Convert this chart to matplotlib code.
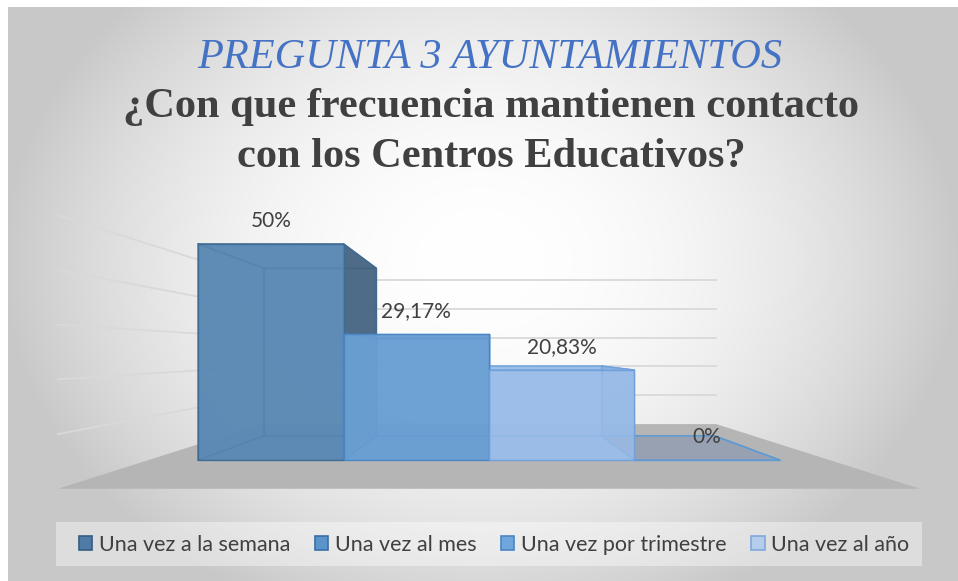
import numpy as np
import matplotlib.pyplot as plt
from matplotlib.colors import to_rgba
from matplotlib.patches import Patch, Rectangle
from mpl_toolkits.mplot3d import proj3d
from mpl_toolkits.mplot3d.art3d import Poly3DCollection

categorias = ["Una vez a la semana", "Una vez al mes",
              "Una vez por trimestre", "Una vez al año"]
valores = [50.0, 29.17, 20.83, 0.0]
etiquetas = ["50%", "29,17%", "20,83%", "0%"]

# colores de las caras (frontal, lateral derecha, borde) y de la leyenda
col_frente = ["#5A89B4", "#6A9FD3", "#9ABDE8", "#97A1B2"]
col_lado = ["#46627B", "#5A8CC0", "#86AEDF", "#97A1B2"]
col_borde = ["#3F6A92", "#4A86C5", "#6C9FDC", "#5B9BD5"]
col_leyenda = ["#4F7BA6", "#5B93CB", "#6FA6DC", "#B4CDEB"]
borde_leyenda = ["#355C84", "#3A6FA5", "#4A86C5", "#7FA8DC"]

W, H = 958, 581
fig = plt.figure(figsize=(W / 100, H / 100), dpi=100)
fig.patch.set_facecolor("white")

# fondo con degradado radial
bg = fig.add_axes([8 / W, 0, 950 / W, 574 / H])
yy, xx = np.mgrid[0:574, 0:950]
r = np.sqrt(((xx - 472) / 480) ** 2 + ((yy - 253) / 380) ** 2)
t = np.clip(r, 0, 1) ** 2
g = (255 - 55 * t) / 255
bg.imshow(np.dstack([g, g, g]), aspect="auto", extent=(0, 950, 574, 0))
bg.set_axis_off()

# ejes 3D en perspectiva, vista frontal
S = 1000
vx, vy = 489, 352
frac = 0.095 / 0.185
ax = fig.add_axes([(vx - frac * S) / W, (H - vy - frac * S) / H, S / W, S / H],
                  projection="3d")
ax.patch.set_alpha(0)
ax.set_axis_off()
ax.computed_zorder = False
f = 0.2
ax.set_proj_type("persp", focal_length=f)
ax.view_init(elev=0, azim=-90)
aspect = np.array([1.1011, 1.238, 0.3494])
ax.set_box_aspect(aspect, zoom=np.linalg.norm(aspect) / (1.8294640721620434 * 25 / 24))

pos = np.arange(1, len(valores) + 1)
x0, x1 = 0.157, 4.843
y0, y1 = 0.0, 1.0
zmax = 50
ax.set_xlim(x0, x1)
ax.set_ylim(y0, y1)
ax.set_zlim(0, zmax)

# suelo
suelo = Poly3DCollection([[(x0, y0, 0), (x1, y0, 0), (x1, y1, 0), (x0, y1, 0)]],
                         facecolor="#B5B5B5", edgecolor="none", zorder=1)
ax.add_collection3d(suelo)

# lineas de cuadricula en las paredes trasera e izquierda
for z in range(10, zmax + 1, 10):
    ax.plot([x0, x1], [y1, y1], [z, z], color="#D9D9D9", lw=1.3, zorder=2)
    ax.plot([x0, x0], [y0, y1], [z, z], color="#D9D9D9", lw=1.3, zorder=2)

# barras
caras, bordes = [], []
for i in range(len(valores)):
    c = col_frente[i]
    for cara in [c, c, c, c, c, col_lado[i]]:
        caras.append(to_rgba(cara, 0.82))
        bordes.append(to_rgba(col_borde[i], 0.9))
prof0, prof = 0.295, 0.41
ax.bar3d(pos - 0.5, np.full(len(pos), prof0), np.zeros(len(pos)),
         1.0, prof, valores, color=caras, edgecolor=bordes,
         linewidth=1, shade=False, zorder=3)

# etiquetas de datos: punto 3D proyectado al plano 2D de los ejes
M = ax.get_proj()
lx, ly, _ = proj3d.proj_transform(pos, np.full(len(pos), prof0), np.array(valores) + 3, M)
for px, py, et in zip(lx, ly, etiquetas):
    ax.text2D(px, py, et, transform=ax.transData, ha="center", va="bottom",
              fontsize=15, color="#404040", family="Lato", zorder=5)

# titulos
fig.text(490 / W, 1 - 58 / H, "PREGUNTA 3 AYUNTAMIENTOS", ha="center", va="center",
         fontsize=30.5, style="italic", family="Liberation Serif", color="#4472C4")
fig.text(491 / W, 1 - 132 / H, "¿Con que frecuencia mantienen contacto\ncon los Centros Educativos?",
         ha="center", va="center", fontsize=30.5, weight="bold", family="Liberation Serif",
         color="#404040", linespacing=1.43)

# leyenda
fig.patches.append(Rectangle((56 / W, 1 - 566 / H), 866 / W, 44 / H, transform=fig.transFigure,
                             facecolor="white", alpha=0.4, edgecolor="none"))
manijas = [Patch(facecolor=c, edgecolor=b, linewidth=1.2)
           for c, b in zip(col_leyenda, borde_leyenda)]
fig.legend(manijas, categorias, loc="center", bbox_to_anchor=(494 / W, 1 - 545 / H),
           ncol=4, frameon=False, prop={"family": "Lato", "size": 15.5},
           labelcolor="#404040", handlelength=0.62, handleheight=0.62,
           handletextpad=0.3, columnspacing=1.15)

fig.savefig("out.png", dpi=100)
